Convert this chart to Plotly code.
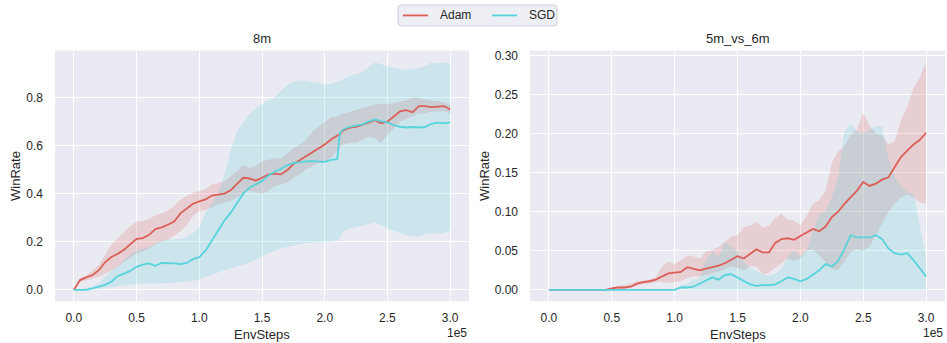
import plotly.graph_objects as go

# ---------------------------------------------------------------- data
# Environment steps (units of 1e5)
steps_8m = [0.00, 0.05, 0.10, 0.15, 0.20, 0.25, 0.30, 0.35, 0.40, 0.45,
            0.50, 0.55, 0.60, 0.65, 0.70, 0.75, 0.80, 0.85, 0.90, 0.95,
            1.00, 1.05, 1.10, 1.15, 1.20, 1.25, 1.30, 1.35, 1.40, 1.45,
            1.50, 1.55, 1.60, 1.65, 1.70, 1.75, 1.80, 1.85, 1.90, 1.95,
            2.00, 2.05, 2.10, 2.12, 2.15, 2.20, 2.25, 2.30, 2.35, 2.40,
            2.45, 2.50, 2.55, 2.60, 2.65, 2.70, 2.75, 2.80, 2.85, 2.90,
            2.95, 3.00]

steps_5m6m = [0.00, 0.05, 0.10, 0.15, 0.20, 0.25, 0.30, 0.35, 0.40, 0.45,
              0.50, 0.55, 0.60, 0.65, 0.70, 0.75, 0.80, 0.85, 0.90, 0.95,
              1.00, 1.05, 1.10, 1.15, 1.20, 1.25, 1.30, 1.35, 1.40, 1.45,
              1.50, 1.55, 1.60, 1.65, 1.70, 1.75, 1.80, 1.85, 1.90, 1.95,
              2.00, 2.05, 2.10, 2.15, 2.20, 2.25, 2.30, 2.35, 2.40, 2.45,
              2.50, 2.55, 2.60, 2.65, 2.70, 2.75, 2.80, 2.85, 2.90, 2.95,
              3.00]

# 8m : Adam
adam_8m_mean = [0.000, 0.041, 0.052, 0.062, 0.082, 0.116, 0.137, 0.150, 0.167, 0.190,
                0.212, 0.215, 0.229, 0.253, 0.260, 0.271, 0.284, 0.318, 0.340, 0.358,
                0.368, 0.376, 0.392, 0.397, 0.400, 0.414, 0.438, 0.466, 0.463, 0.454,
                0.466, 0.479, 0.483, 0.480, 0.497, 0.523, 0.539, 0.555, 0.572, 0.590,
                0.604, 0.625, 0.642, 0.648, 0.664, 0.674, 0.678, 0.685, 0.695, 0.705,
                0.692, 0.699, 0.719, 0.742, 0.747, 0.738, 0.764, 0.764, 0.760, 0.761,
                0.764, 0.750]
adam_8m_lower = [0.000, 0.034, 0.041, 0.048, 0.055, 0.068, 0.082, 0.095, 0.115, 0.135,
                 0.150, 0.160, 0.170, 0.190, 0.200, 0.210, 0.225, 0.245, 0.270, 0.305,
                 0.329, 0.331, 0.342, 0.356, 0.363, 0.370, 0.383, 0.404, 0.411, 0.404,
                 0.400, 0.411, 0.431, 0.438, 0.445, 0.466, 0.479, 0.500, 0.514, 0.527,
                 0.534, 0.548, 0.580, 0.592, 0.605, 0.610, 0.610, 0.623, 0.637, 0.630,
                 0.610, 0.644, 0.671, 0.699, 0.712, 0.722, 0.733, 0.733, 0.740, 0.740,
                 0.744, 0.733]
adam_8m_upper = [0.000, 0.050, 0.060, 0.082, 0.105, 0.145, 0.190, 0.215, 0.240, 0.265,
                 0.285, 0.285, 0.295, 0.310, 0.318, 0.330, 0.350, 0.375, 0.390, 0.405,
                 0.411, 0.418, 0.438, 0.445, 0.452, 0.473, 0.493, 0.520, 0.507, 0.514,
                 0.535, 0.540, 0.548, 0.545, 0.568, 0.589, 0.603, 0.623, 0.657, 0.678,
                 0.698, 0.719, 0.720, 0.725, 0.733, 0.740, 0.747, 0.753, 0.763, 0.771,
                 0.771, 0.774, 0.777, 0.781, 0.788, 0.799, 0.799, 0.790, 0.788, 0.785,
                 0.781, 0.767]

# 8m : SGD
sgd_8m_mean = [0.000, 0.000, 0.000, 0.007, 0.014, 0.021, 0.034, 0.058, 0.068, 0.079,
               0.096, 0.105, 0.110, 0.100, 0.112, 0.112, 0.110, 0.107, 0.112, 0.128,
               0.136, 0.163, 0.203, 0.245, 0.288, 0.320, 0.358, 0.400, 0.425, 0.440,
               0.452, 0.475, 0.491, 0.503, 0.518, 0.527, 0.532, 0.534, 0.535, 0.534,
               0.532, 0.540, 0.543, 0.652, 0.668, 0.678, 0.682, 0.688, 0.699, 0.708,
               0.701, 0.696, 0.685, 0.678, 0.675, 0.677, 0.675, 0.677, 0.690, 0.695,
               0.692, 0.696]
sgd_8m_lower = [0.000, 0.000, 0.000, 0.000, 0.002, 0.005, 0.010, 0.014, 0.018, 0.022,
                0.025, 0.027, 0.027, 0.027, 0.027, 0.028, 0.030, 0.032, 0.034, 0.038,
                0.042, 0.052, 0.062, 0.072, 0.082, 0.090, 0.099, 0.106, 0.114, 0.125,
                0.137, 0.150, 0.162, 0.172, 0.178, 0.185, 0.190, 0.195, 0.199, 0.199,
                0.199, 0.200, 0.205, 0.215, 0.245, 0.255, 0.262, 0.267, 0.275, 0.280,
                0.270, 0.255, 0.245, 0.235, 0.228, 0.222, 0.222, 0.233, 0.235, 0.235,
                0.235, 0.247]
sgd_8m_upper = [0.000, 0.003, 0.007, 0.014, 0.027, 0.055, 0.082, 0.096, 0.123, 0.148,
                0.164, 0.171, 0.178, 0.192, 0.205, 0.210, 0.210, 0.212, 0.219, 0.235,
                0.260, 0.320, 0.360, 0.400, 0.475, 0.580, 0.657, 0.698, 0.733, 0.755,
                0.770, 0.788, 0.801, 0.825, 0.850, 0.866, 0.870, 0.868, 0.864, 0.860,
                0.854, 0.858, 0.866, 0.868, 0.877, 0.890, 0.897, 0.904, 0.925, 0.945,
                0.938, 0.927, 0.922, 0.918, 0.914, 0.918, 0.922, 0.932, 0.945, 0.941,
                0.945, 0.941]

# 5m_vs_6m : Adam
adam_5m6m_mean = [0.000, 0.000, 0.000, 0.000, 0.000, 0.000, 0.000, 0.000, 0.000, 0.000,
                  0.002, 0.003, 0.003, 0.004, 0.008, 0.010, 0.011, 0.013, 0.017, 0.021,
                  0.022, 0.023, 0.029, 0.027, 0.025, 0.027, 0.029, 0.031, 0.034, 0.039,
                  0.043, 0.040, 0.046, 0.052, 0.048, 0.048, 0.060, 0.065, 0.066, 0.064,
                  0.069, 0.073, 0.078, 0.075, 0.081, 0.093, 0.100, 0.110, 0.119, 0.127,
                  0.138, 0.133, 0.136, 0.141, 0.144, 0.157, 0.170, 0.178, 0.186, 0.192,
                  0.201]
adam_5m6m_lower = [0.000, 0.000, 0.000, 0.000, 0.000, 0.000, 0.000, 0.000, 0.000, 0.000,
                   0.000, 0.001, 0.001, 0.002, 0.005, 0.007, 0.008, 0.010, 0.010, 0.009,
                   0.010, 0.011, 0.015, 0.017, 0.017, 0.019, 0.021, 0.023, 0.026, 0.030,
                   0.028, 0.025, 0.030, 0.030, 0.020, 0.022, 0.028, 0.034, 0.040, 0.037,
                   0.040, 0.050, 0.052, 0.043, 0.035, 0.027, 0.025, 0.037, 0.048, 0.052,
                   0.050, 0.055, 0.070, 0.085, 0.100, 0.110, 0.118, 0.122, 0.118, 0.112,
                   0.110]
adam_5m6m_upper = [0.000, 0.000, 0.000, 0.000, 0.000, 0.000, 0.000, 0.000, 0.000, 0.000,
                   0.003, 0.005, 0.006, 0.008, 0.011, 0.012, 0.013, 0.016, 0.030, 0.036,
                   0.033, 0.038, 0.044, 0.043, 0.040, 0.049, 0.051, 0.055, 0.061, 0.068,
                   0.070, 0.080, 0.082, 0.087, 0.080, 0.082, 0.092, 0.097, 0.090, 0.088,
                   0.083, 0.095, 0.110, 0.115, 0.127, 0.163, 0.177, 0.184, 0.198, 0.205,
                   0.226, 0.210, 0.200, 0.198, 0.186, 0.190, 0.217, 0.235, 0.258, 0.272,
                   0.292]

# 5m_vs_6m : SGD
sgd_5m6m_mean = [0.000, 0.000, 0.000, 0.000, 0.000, 0.000, 0.000, 0.000, 0.000, 0.000,
                 0.000, 0.000, 0.000, 0.000, 0.000, 0.000, 0.000, 0.000, 0.000, 0.000,
                 0.000, 0.003, 0.003, 0.004, 0.008, 0.012, 0.016, 0.013, 0.019, 0.020,
                 0.016, 0.011, 0.007, 0.005, 0.006, 0.006, 0.007, 0.011, 0.016, 0.014,
                 0.011, 0.014, 0.020, 0.025, 0.033, 0.030, 0.037, 0.052, 0.070, 0.067,
                 0.067, 0.067, 0.070, 0.065, 0.053, 0.047, 0.045, 0.047, 0.038, 0.028,
                 0.017]
sgd_5m6m_lower = [0.000, 0.000, 0.000, 0.000, 0.000, 0.000, 0.000, 0.000, 0.000, 0.000,
                  0.000, 0.000, 0.000, 0.000, 0.000, 0.000, 0.000, 0.000, 0.000, 0.000,
                  0.000, 0.000, 0.000, 0.000, 0.000, 0.000, 0.000, 0.000, 0.000, 0.000,
                  0.000, 0.000, 0.000, 0.000, 0.000, 0.000, 0.000, 0.000, 0.000, 0.000,
                  0.000, 0.000, 0.000, 0.000, 0.000, 0.000, 0.000, 0.000, 0.000, 0.000,
                  0.000, 0.000, 0.000, 0.000, 0.000, 0.000, 0.000, 0.000, 0.000, 0.000,
                  0.000]
sgd_5m6m_upper = [0.000, 0.000, 0.000, 0.000, 0.000, 0.000, 0.000, 0.000, 0.000, 0.000,
                  0.000, 0.000, 0.000, 0.000, 0.000, 0.000, 0.000, 0.000, 0.000, 0.000,
                  0.000, 0.006, 0.008, 0.013, 0.015, 0.038, 0.049, 0.042, 0.061, 0.055,
                  0.049, 0.036, 0.028, 0.024, 0.020, 0.018, 0.021, 0.027, 0.042, 0.051,
                  0.042, 0.051, 0.076, 0.097, 0.101, 0.118, 0.144, 0.203, 0.213, 0.203,
                  0.200, 0.205, 0.209, 0.209, 0.169, 0.144, 0.133, 0.125, 0.123, 0.080,
                  0.042]

x_ticks = [0.0, 0.5, 1.0, 1.5, 2.0, 2.5, 3.0]
x_tick_text = ["0.0", "0.5", "1.0", "1.5", "2.0", "2.5", "3.0"]
y_ticks_8m = [0.0, 0.2, 0.4, 0.6, 0.8]
y_tick_text_8m = ["0.0", "0.2", "0.4", "0.6", "0.8"]
y_ticks_5m6m = [0.00, 0.05, 0.10, 0.15, 0.20, 0.25, 0.30]
y_tick_text_5m6m = ["0.00", "0.05", "0.10", "0.15", "0.20", "0.25", "0.30"]

legend_names = ["Adam", "SGD"]

# ---------------------------------------------------------------- style
W, H = 947, 343
ADAM = "#db5f57"
SGD = "#57d3db"
TEXT = "#262626"
FONT = "Liberation Sans, Arial, sans-serif"


def rgba(hex_color, alpha):
    h = hex_color.lstrip("#")
    r, g, b = int(h[0:2], 16), int(h[2:4], 16), int(h[4:6], 16)
    return f"rgba({r},{g},{b},{alpha})"


def band(x, lo, hi, color, xa, ya):
    return go.Scatter(
        x=list(x) + list(x)[::-1],
        y=list(hi) + list(lo)[::-1],
        fill="toself",
        fillcolor=rgba(color, 0.2),
        line=dict(width=0),
        mode="lines",
        hoverinfo="skip",
        showlegend=False,
        xaxis=xa, yaxis=ya,
    )


def curve(x, y, color, name, xa, ya):
    return go.Scatter(
        x=x, y=y, mode="lines", name=name,
        line=dict(color=color, width=1.8),
        showlegend=False, xaxis=xa, yaxis=ya,
    )


fig = go.Figure()

# 8m panel
fig.add_trace(band(steps_8m, adam_8m_lower, adam_8m_upper, ADAM, "x", "y"))
fig.add_trace(band(steps_8m, sgd_8m_lower, sgd_8m_upper, SGD, "x", "y"))
fig.add_trace(curve(steps_8m, adam_8m_mean, ADAM, "Adam", "x", "y"))
fig.add_trace(curve(steps_8m, sgd_8m_mean, SGD, "SGD", "x", "y"))

# 5m_vs_6m panel
fig.add_trace(band(steps_5m6m, adam_5m6m_lower, adam_5m6m_upper, ADAM, "x2", "y2"))
fig.add_trace(band(steps_5m6m, sgd_5m6m_lower, sgd_5m6m_upper, SGD, "x2", "y2"))
fig.add_trace(curve(steps_5m6m, adam_5m6m_mean, ADAM, "Adam", "x2", "y2"))
fig.add_trace(curve(steps_5m6m, sgd_5m6m_mean, SGD, "SGD", "x2", "y2"))

# panel geometry in pixels
L1, R1 = 55, 469
L2, R2 = 530, 945
TOP, BOT = 49, 301


def px(x):
    return x / W


def py(y):
    return 1 - y / H


axis_common = dict(
    showgrid=True, gridcolor="white", gridwidth=1.3,
    zeroline=False, showline=False, ticks="",
    tickfont=dict(size=12, color=TEXT, family=FONT),
)

fig.update_layout(
    width=W, height=H,
    margin=dict(l=0, r=0, t=0, b=0),
    paper_bgcolor="white",
    plot_bgcolor="#eaeaf2",
    font=dict(family=FONT, color=TEXT, size=12),
    showlegend=False,
    xaxis=dict(domain=[px(L1), px(R1)], anchor="y", range=[-0.15, 3.15],
               tickvals=x_ticks, ticktext=x_tick_text, ticklabelstandoff=8,
               **axis_common),
    yaxis=dict(domain=[py(BOT), py(TOP)], anchor="x", range=[-0.047, 0.994],
               tickvals=y_ticks_8m, ticktext=y_tick_text_8m, ticklabelstandoff=11,
               **axis_common),
    xaxis2=dict(domain=[px(L2), px(R2)], anchor="y2", range=[-0.15, 3.15],
                tickvals=x_ticks, ticktext=x_tick_text, ticklabelstandoff=8,
                **axis_common),
    yaxis2=dict(domain=[py(BOT), py(TOP)], anchor="x2", range=[-0.0146, 0.306],
                tickvals=y_ticks_5m6m, ticktext=y_tick_text_5m6m, ticklabelstandoff=11,
                **axis_common),
)


def label(text, x, y, size=13, angle=0, xanchor="center"):
    fig.add_annotation(
        text=text, x=px(x), y=py(y), xref="paper", yref="paper",
        xanchor=xanchor, yanchor="middle", showarrow=False, textangle=angle,
        font=dict(size=size, color=TEXT, family=FONT),
    )


# titles
label("8m", (L1 + R1) / 2, 37)
label("5m_vs_6m", (L2 + R2) / 2, 37)
# axis labels
label("EnvSteps", (L1 + R1) / 2, 334)
label("EnvSteps", (L2 + R2) / 2, 334)
label("WinRate", 16, (TOP + BOT) / 2, angle=-90)
label("WinRate", 485, (TOP + BOT) / 2, angle=-90)
# x scale offset
label("1e5", R1, 333, size=12, xanchor="right")
label("1e5", R2, 333, size=12, xanchor="right")

# shared legend box above both panels
LX0, LX1, LY0, LY1, RAD = 398, 557, 3, 24, 3
rx, ry = RAD / W, RAD / H
x0, x1, y0, y1 = px(LX0), px(LX1), py(LY1), py(LY0)
legend_path = (
    f"M {x0 + rx},{y0} L {x1 - rx},{y0} Q {x1},{y0} {x1},{y0 + ry} "
    f"L {x1},{y1 - ry} Q {x1},{y1} {x1 - rx},{y1} L {x0 + rx},{y1} "
    f"Q {x0},{y1} {x0},{y1 - ry} L {x0},{y0 + ry} Q {x0},{y0} {x0 + rx},{y0} Z"
)
fig.add_shape(type="path", path=legend_path, xref="paper", yref="paper",
              fillcolor="rgba(234,234,242,0.8)", line=dict(color="#cfcfd6", width=1),
              layer="above")
LEG_Y = 13.5
for name, color, sx in zip(legend_names, [ADAM, SGD], [403, 492]):
    fig.add_shape(type="line", xref="paper", yref="paper",
                  x0=px(sx), x1=px(sx + 25), y0=py(LEG_Y), y1=py(LEG_Y),
                  line=dict(color=color, width=1.8), layer="above")
    label(name, sx + 35, LEG_Y, size=12, xanchor="left")

fig.write_html("out.html")
